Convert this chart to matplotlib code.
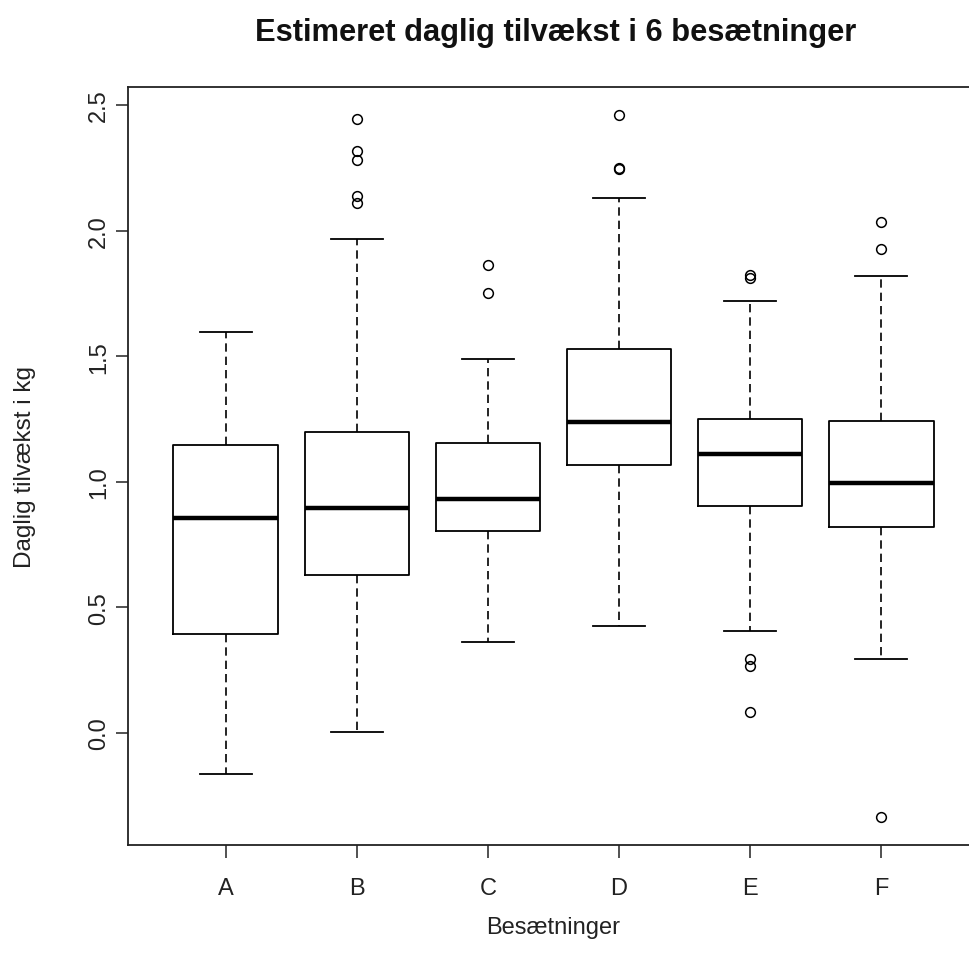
import matplotlib
matplotlib.use("Agg")
import matplotlib.pyplot as plt

plt.rcParams['font.family'] = ['Liberation Sans', 'DejaVu Sans']

groups = ["A", "B", "C", "D", "E", "F"]
whislo = [-0.163, 0.004, 0.362, 0.426, 0.407, 0.295]
q1 = [0.394, 0.628, 0.804, 1.068, 0.902, 0.820]
med = [0.856, 0.894, 0.932, 1.237, 1.109, 0.995]
q3 = [1.148, 1.198, 1.154, 1.529, 1.249, 1.242]
whishi = [1.598, 1.967, 1.489, 2.128, 1.720, 1.818]
fliers = [
    [],
    [2.444, 2.318, 2.281, 2.138, 2.110],
    [1.863, 1.752],
    [2.461, 2.248, 2.245],
    [1.825, 1.810, 0.295, 0.268, 0.082],
    [2.035, 1.927, -0.336],
]
yticks = [0.0, 0.5, 1.0, 1.5, 2.0, 2.5]
ytick_labels = ["0.0", "0.5", "1.0", "1.5", "2.0", "2.5"]

W, H = 969, 970
fig = plt.figure(figsize=(W / 100, H / 100), dpi=100)
left_px, right_px, top_px, bottom_px = 128, 979, 88, 846
ax = fig.add_axes([left_px / W, 1 - bottom_px / H,
                   (right_px - left_px) / W, (bottom_px - top_px) / H])

stats = []
for i, g in enumerate(groups):
    stats.append(dict(label=g, whislo=whislo[i], q1=q1[i], med=med[i],
                      q3=q3[i], whishi=whishi[i], fliers=fliers[i]))

positions = list(range(1, len(groups) + 1))
ax.bxp(stats, positions=positions, widths=0.8, showfliers=True,
       boxprops=dict(color='black', linewidth=1.3),
       medianprops=dict(color='black', linewidth=3.2, solid_capstyle='butt'),
       whiskerprops=dict(color='black', linewidth=1.2, linestyle=(0, (5, 3))),
       capprops=dict(color='black', linewidth=1.3),
       capwidths=0.4,
       flierprops=dict(marker='o', markerfacecolor='none', markeredgecolor='black',
                       markersize=7, markeredgewidth=1.1, linestyle='none'))

ax.set_xlim(0.253, 6.747)
ax.set_ylim(-0.4459, 2.5717)
ax.set_yticks(yticks)
ax.set_yticklabels(ytick_labels, rotation=90, va='center', fontsize=17, color='#222222')
ax.set_xticks(positions)
ax.set_xticklabels(groups, fontsize=17, color='#222222')
ax.tick_params(axis='both', length=9, width=1.1, direction='out', color='#222222')
ax.tick_params(axis='y', pad=4)
ax.tick_params(axis='x', pad=14)
for s in ax.spines.values():
    s.set_linewidth(1.3)
    s.set_color('#222222')

fig.text(556 / W, 1 - 33 / H, "Estimeret daglig tilvækst i 6 besætninger",
         ha='center', va='center', fontsize=22.2, fontweight='bold', color='#111111')
fig.text(553.5 / W, 1 - 928 / H, "Besætninger", ha='center', va='center',
         fontsize=17, color='#222222')
fig.text(25 / W, 1 - 467 / H, "Daglig tilvækst i kg", ha='center', va='center',
         rotation=90, fontsize=17.5, color='#222222')

fig.savefig("out.png", dpi=100)
